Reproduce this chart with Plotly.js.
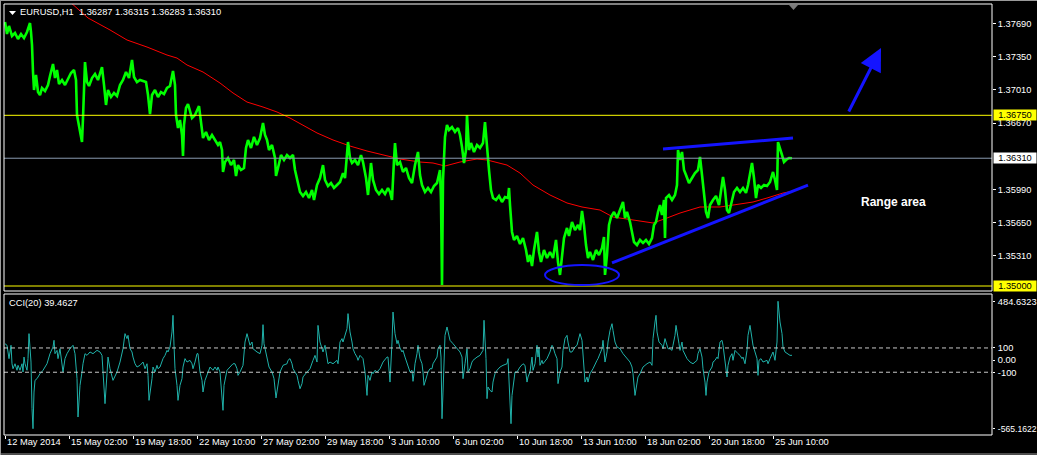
<!DOCTYPE html>
<html><head><meta charset="utf-8">
<script src="https://cdn.plot.ly/plotly-3.0.1.min.js"></script>
<style>html,body{margin:0;padding:0;background:#000;overflow:hidden}#chart{width:1037px;height:455px}</style>
</head><body><div id="chart"></div>
<script>
// ---------------- data ----------------
const symbolHeader = 'EURUSD,H1  1.36287 1.36315 1.36283 1.36310';
const cciHeader = 'CCI(20) 39.4627';
const rangeLabel = 'Range area';

// bar index (H1 bars, left to right) and price
const priceBars = [5,7,9,12,15,18,21,24,27,30,31,32,33,34,36,38,40,42,45,48,50,53,55,57,59,62,65,68,71,74,76,77,79,81,82,83,85,87,89,92,95,98,100,102,104,106,108,111,114,117,120,123,126,129,132,134,137,140,143,146,148,150,152,155,158,161,164,167,170,173,175,176,178,180,182,183,184,186,188,190,192,195,197,199,201,203,206,209,212,215,218,220,222,223,225,228,231,234,236,238,241,244,246,248,251,254,257,260,263,265,267,269,272,275,276,278,281,284,287,290,293,295,297,300,303,306,309,312,314,317,320,323,325,328,331,334,337,340,343,345,348,350,352,355,358,361,363,366,368,371,373,376,379,382,385,388,390,392,394,395,397,400,403,406,409,412,415,418,420,422,425,428,431,434,437,440,441,442,443,445,447,449,452,455,458,460,462,464,466,467,469,471,474,477,480,483,485,487,489,491,493,496,499,502,505,508,509,510,512,514,517,520,523,526,528,530,532,534,537,539,541,544,547,550,553,556,558,560,562,564,567,569,572,575,578,580,582,584,586,588,590,593,596,599,602,604,605,607,609,611,614,617,620,623,625,627,630,632,634,637,640,643,646,649,652,654,656,658,660,662,664,665,666,669,672,675,677,678,680,682,684,686,689,692,695,698,700,702,704,706,708,710,713,716,719,721,723,725,727,729,731,734,737,740,743,746,748,750,752,754,756,758,761,764,767,770,773,775,777,778,780,782,784,786,789,792];
const priceClose = [1.37707,1.37583,1.37666,1.37563,1.37594,1.37532,1.37583,1.37542,1.37604,1.37696,
1.37604,1.37471,1.37194,1.37009,1.37163,1.36989,1.36958,1.3703,1.36999,1.37061,
1.37153,1.37276,1.37132,1.37214,1.37071,1.37112,1.37061,1.37132,1.37184,1.37214,
1.37112,1.36753,1.36651,1.36548,1.36476,1.36722,1.37296,1.37091,1.3705,1.37132,
1.37173,1.37112,1.37194,1.37245,1.37061,1.36856,1.37009,1.36938,1.36979,1.36948,
1.37061,1.37112,1.37194,1.37132,1.37317,1.37143,1.37091,1.37112,1.37102,1.37091,
1.36958,1.36763,1.36958,1.37009,1.36938,1.36989,1.36968,1.3703,1.3705,1.37204,
1.37061,1.36753,1.3662,1.36702,1.36548,1.36333,1.36651,1.36825,1.36866,1.36784,
1.36722,1.36753,1.36804,1.36845,1.36681,1.36517,1.36579,1.36497,1.36548,1.36497,
1.36446,1.36476,1.36394,1.36169,1.36271,1.36312,1.3624,1.36292,1.36128,1.3624,
1.36189,1.3621,1.36415,1.36497,1.36415,1.36528,1.36446,1.36517,1.36671,1.36548,
1.36497,1.36394,1.36446,1.36312,1.36128,1.3621,1.36343,1.36292,1.36343,1.36312,
1.36343,1.36189,1.36087,1.35964,1.35923,1.35964,1.35902,1.35984,1.35882,1.36035,
1.36107,1.3624,1.36087,1.36025,1.36056,1.36005,1.36035,1.36066,1.36158,1.36107,
1.36476,1.36312,1.36261,1.36292,1.3624,1.36343,1.36271,1.36107,1.35933,1.36261,
1.36087,1.35984,1.35943,1.35984,1.35943,1.36005,1.35964,1.35882,1.36292,1.36466,
1.3624,1.36271,1.36169,1.3621,1.36107,1.36056,1.3624,1.36374,1.36138,1.36035,
1.35964,1.36005,1.35964,1.36025,1.36056,1.36189,1.35882,1.3501,1.36087,1.36528,
1.36651,1.36599,1.3663,1.36579,1.3662,1.36548,1.36425,1.36261,1.36394,1.36753,
1.36394,1.36466,1.36374,1.36446,1.36415,1.36466,1.36681,1.36394,1.36189,1.35984,
1.35902,1.35882,1.35923,1.35861,1.35912,1.35902,1.36005,1.3583,1.35554,1.35472,
1.35513,1.35431,1.35492,1.35369,1.35246,1.35318,1.35205,1.35369,1.35554,1.35349,
1.35246,1.35369,1.35287,1.35349,1.35287,1.35472,1.35246,1.35113,1.35287,1.35492,
1.35595,1.35513,1.35656,1.35574,1.35625,1.35574,1.35769,1.35625,1.3542,1.35287,
1.35349,1.35267,1.35369,1.35318,1.3539,1.35502,1.35113,1.35318,1.35625,1.35707,
1.35759,1.35697,1.35779,1.35861,1.35697,1.35759,1.35656,1.35554,1.35451,1.3542,
1.35472,1.35441,1.35472,1.35431,1.35492,1.35625,1.35656,1.35759,1.3583,1.35728,
1.35882,1.35492,1.35902,1.35933,1.35882,1.35933,1.36035,1.36394,1.36292,1.36374,
1.36189,1.36138,1.36056,1.36107,1.36158,1.36189,1.36323,1.36138,1.35933,1.35759,
1.35697,1.3583,1.35882,1.35923,1.3583,1.35984,1.36117,1.35984,1.35779,1.35748,
1.3583,1.35964,1.36005,1.35964,1.36005,1.35954,1.36035,1.36138,1.36261,1.36107,
1.35902,1.36035,1.36005,1.36035,1.36025,1.36066,1.36169,1.36087,1.35984,1.36476,
1.36394,1.36343,1.36271,1.36292,1.36312,1.3631];

// moving average (red)
const maBars = [70,88,110,127,147,167,177,187,203,220,233,247,263,277,290,303,317,333,350,367,383,400,420,433,445,460,477,487,507,520,533,550,567,582,600,613,633,653,667,680,700,720,733,753,767,783,793];
const maValues = [1.37912,1.37748,1.37625,1.37522,1.3745,1.37368,1.37337,1.37266,1.37194,1.37081,1.36979,1.36886,1.36835,1.36784,1.36722,1.36651,1.36569,1.36497,1.36435,1.36384,1.36343,1.36302,1.36271,1.36261,1.3623,1.36271,1.36302,1.36292,1.3624,1.36158,1.36035,1.35933,1.35851,1.3581,1.35779,1.35707,1.35677,1.35646,1.35697,1.35748,1.3581,1.3581,1.3583,1.35861,1.35902,1.35953,1.35974];

// CCI(20): [bar, value]
const cciSeries = [[5,135],[7,122],[9,12],[11,122],[12,-30],[13,-71],[15,-30],[17,-84],[18,-43],[20,-84],[22,-30],[23,-98],[24,25],[25,-30],[27,-84],[28,12],[29,218],[31,-16],[32,-400],[33,-565.1622],[34,-263],[35,-167],[37,-153],[40,-112],[43,-84],[47,-30],[50,53],[53,108],[54,163],[55,53],[57,80],[58,12],[60,94],[62,-16],[63,-98],[65,12],[67,53],[70,94],[73,122],[75,53],[77,-153],[78,-469],[80,-208],[82,-98],[83,-30],[85,53],[87,39],[90,67],[93,53],[97,80],[100,67],[102,39],[103,-126],[105,-359],[107,-112],[108,25],[110,-71],[112,-139],[113,-167],[117,-98],[120,-16],[123,94],[125,218],[127,177],[128,204],[130,94],[132,67],[133,25],[135,-30],[137,-57],[140,-43],[143,-16],[145,-71],[147,-30],[148,-126],[149,-332],[151,-236],[152,-153],[153,-57],[155,-98],[157,-43],[158,-71],[160,-57],[163,12],[165,39],[167,80],[168,67],[170,108],[172,232],[173,369],[174,122],[175,-71],[177,-208],[178,-332],[180,-208],[182,-153],[183,-57],[185,12],[187,-16],[190,-2],[192,-30],[193,-71],[195,-16],[197,53],[198,53],[200,-98],[202,-167],[203,-263],[205,-167],[207,-126],[210,-57],[213,-84],[215,-57],[217,-84],[218,-57],[220,-98],[223,-414],[224,-208],[227,-84],[230,-57],[233,-30],[235,-30],[237,-71],[238,-126],[240,-98],[243,-43],[245,149],[247,218],[248,177],[250,122],[252,149],[253,94],[257,67],[260,53],[262,122],[263,292],[264,135],[266,53],[267,-2],[269,-57],[272,-98],[274,-153],[276,-312],[278,-181],[280,-98],[283,-43],[287,-30],[288,-2],[290,12],[292,-30],[293,-71],[295,-98],[297,-126],[298,-167],[300,-236],[302,-194],[303,-139],[307,-98],[310,-71],[313,-2],[315,39],[317,-16],[318,286],[320,149],[322,94],[323,67],[325,122],[327,-2],[328,-30],[330,-16],[333,-30],[337,-2],[338,-30],[340,149],[342,177],[343,149],[345,204],[347,259],[348,383],[350,232],[352,149],[353,94],[355,53],[357,25],[358,-2],[360,39],[363,12],[365,-98],[367,-291],[368,-126],[370,-167],[372,-98],[373,-112],[375,-84],[377,-98],[380,-71],[383,-16],[387,25],[388,25],[390,-181],[392,149],[393,396],[395,218],[397,135],[398,163],[400,100],
[402,67],[403,80],[405,25],[407,-30],[408,-57],[410,-98],[412,-84],[413,-175],[414,-112],[415,-30],[417,53],[418,122],[420,12],[422,-30],[423,-98],[424,-208],[425,-181],[427,-126],[428,-98],[430,-71],[432,-71],[433,-30],[435,-2],[437,25],[438,94],[440,122],[441,25],[442,-483],[443,-263],[444,25],[445,204],[447,273],[448,232],[450,163],[453,135],[457,94],[460,67],[462,25],[463,-153],[465,-30],[467,94],[468,-98],[470,-71],[472,-16],[473,-2],[477,25],[480,39],[482,67],[483,80],[484,328],[486,12],[487,-318],[488,-222],[490,-249],[492,-263],[493,-181],[495,-112],[497,-84],[500,-57],[503,-43],[507,-30],[508,12],[510,-345],[511,-524],[512,-291],[513,-208],[515,-98],[517,-98],[520,-57],[523,-30],[525,-43],[527,-181],[528,-139],[530,-98],[532,25],[533,-84],[535,-30],[537,122],[538,25],[539,108],[540,-43],[542,-2],[543,-30],[547,12],[550,67],[552,122],[553,108],[555,53],[557,12],[558,-194],[560,-98],[562,-57],[563,80],[565,177],[567,204],[568,149],[570,67],[572,67],[573,80],[575,108],[577,122],[578,149],[580,218],[582,163],[583,39],[585,-181],[587,-139],[588,-181],[590,-112],[592,-84],[593,-71],[597,-2],[598,12],[600,53],[602,94],[603,163],[605,-16],[607,67],[608,149],[610,245],[612,300],[613,245],[615,149],[617,108],[620,94],[623,53],[627,12],[630,-16],[632,-57],[633,-112],[635,-291],[637,-181],[638,-139],[640,-112],[643,-57],[647,-30],[650,-16],[652,-43],[653,177],[655,314],[656,369],[657,232],[659,149],[662,122],[663,94],[665,177],[667,108],[668,94],[670,94],[672,80],[673,122],[675,204],[676,286],[677,245],[679,135],[680,80],[682,149],[683,80],[685,39],[687,12],[690,-16],[693,-30],[697,-2],[698,53],[700,94],[702,25],[703,-71],[705,-181],[706,-291],[707,-181],[709,-98],[712,-57],[713,-16],[715,-2],[717,25],[718,12],[720,149],[722,163],[723,122],[725,12],[727,-139],[728,-43],[730,25],[732,53],[733,-2],[735,80],[737,67],[738,53],[740,39],[742,12],[743,25],[745,-30],[747,80],[748,204],[750,286],[752,177],[753,122],[755,67],[757,12],[758,-126],[759,-2],[761,12],[763,-16],[767,-2],[768,-30],[770,12],[772,53],[773,67],[775,-2],[777,149],[778,484.6323],[780,314],[782,218],[783,108],[785,67],[787,53],[788,53],[790,39],[792,39.4627]];

const priceTickVals = [1.3769,1.3735,1.3701,1.3667,1.3599,1.3565,1.3531];
const yellowLevels = [1.3675, 1.35];
const bidPrice = 1.3631;
const cciTickVals = [484.6323,100,0,-100,-565.1622];
const cciTickText = ['484.6323','100','0.00','-100','-565.1622'];
const cciLevels = [100,-100];
const timeTickBars = [5,69,133,197,261,325,389,453,517,581,645,709,773];
const timeTickText = ['12 May 2014','15 May 02:00','19 May 18:00','22 May 10:00','27 May 02:00','29 May 18:00','3 Jun 10:00','6 Jun 02:00','10 Jun 18:00','13 Jun 10:00','18 Jun 02:00','20 Jun 18:00','25 Jun 10:00'];

// ---------------- layout helpers ----------------
const W = 1037, H = 455, L = 4, R = 992, T = 4, B = 435;
const px = v => (v - L) / (R - L);
const py = v => (B - v) / (B - T);
const FONT = 'Liberation Sans, Arial, sans-serif';
const FS = 9.3;
const BLUE = '#1414ff';

const traces = [
  {x: maBars, y: maValues, type: 'scatter', mode: 'lines', line: {color: '#ff0000', width: 1}, xaxis: 'x', yaxis: 'y'},
  {x: priceBars, y: priceClose, type: 'scatter', mode: 'lines', line: {color: '#00ff00', width: 2.6}, xaxis: 'x', yaxis: 'y'},
  {x: cciSeries.map(d => d[0]), y: cciSeries.map(d => d[1]), type: 'scatter', mode: 'lines', line: {color: '#20b2aa', width: 1}, xaxis: 'x', yaxis: 'y2'}
];

const shapes = [];
yellowLevels.forEach(v => shapes.push({type: 'line', xref: 'paper', x0: 0, x1: 1, yref: 'y', y0: v, y1: v, line: {color: '#ffff00', width: 1}}));
shapes.push({type: 'line', xref: 'paper', x0: 0, x1: 1, yref: 'y', y0: bidPrice, y1: bidPrice, line: {color: '#8a9ab0', width: 1}});
cciLevels.forEach(v => shapes.push({type: 'line', xref: 'paper', x0: 0, x1: 1, yref: 'y2', y0: v, y1: v, line: {color: '#c8c8c8', width: 1, dash: '4px,3px'}}));
// panel frames
shapes.push({type: 'rect', xref: 'paper', yref: 'paper', x0: 0, x1: 1, y0: py(291), y1: 1, line: {color: '#ffffff', width: 1}});
shapes.push({type: 'rect', xref: 'paper', yref: 'paper', x0: 0, x1: 1, y0: 0, y1: py(294), line: {color: '#ffffff', width: 1}});
// window border
shapes.push({type: 'line', xref: 'paper', yref: 'paper', x0: px(0.5), x1: px(0.5), y0: py(0), y1: py(455), line: {color: '#9a9a9a', width: 1}});
shapes.push({type: 'line', xref: 'paper', yref: 'paper', x0: px(0), x1: px(1037), y0: py(0.5), y1: py(0.5), line: {color: '#9a9a9a', width: 1}});
shapes.push({type: 'line', xref: 'paper', yref: 'paper', x0: px(0), x1: px(1037), y0: py(454), y1: py(454), line: {color: '#9a9a9a', width: 1}});
// header triangle
shapes.push({type: 'path', xref: 'paper', yref: 'paper', path: `M ${px(9)},${py(11)} L ${px(16)},${py(11)} L ${px(12.5)},${py(15)} Z`, fillcolor: '#ffffff', line: {width: 0}});
// chart-shift marker
shapes.push({type: 'path', xref: 'paper', yref: 'paper', path: `M ${px(789)},${py(5)} L ${px(798)},${py(5)} L ${px(793.5)},${py(10)} Z`, fillcolor: '#7a7a7a', line: {width: 0}});
// drawn objects: trend lines, ellipse
shapes.push({type: 'line', xref: 'x', yref: 'y', x0: 663, y0: 1.36405, x1: 793, y1: 1.36517, line: {color: BLUE, width: 3}});
shapes.push({type: 'line', xref: 'x', yref: 'y', x0: 612, y0: 1.35236, x1: 808, y1: 1.36035, line: {color: BLUE, width: 3}});
shapes.push({type: 'circle', xref: 'x', yref: 'y', x0: 545, x1: 619, y0: 1.3501, y1: 1.35215, line: {color: BLUE, width: 2}});

const annotations = [];
function boxLabel(v, txt, bg) {
  annotations.push({xref: 'paper', x: 1, xanchor: 'left', xshift: 1, yref: 'y', y: v, yanchor: 'middle',
    text: txt, font: {family: FONT, size: FS, color: '#000000'}, bgcolor: bg, width: 42, height: 10, align: 'center', borderpad: 0, showarrow: false});
}
boxLabel(1.3675, '1.36750', '#ffff00');
boxLabel(bidPrice, bidPrice.toFixed(5), '#ffffff');
boxLabel(1.35, '1.35000', '#ffff00');
timeTickBars.forEach((b, i) => annotations.push({xref: 'x', x: b, xanchor: 'left', xshift: 1, yref: 'paper', y: 0, yanchor: 'top', yshift: -1,
  text: timeTickText[i], font: {family: FONT, size: FS, color: '#ffffff'}, showarrow: false, borderpad: 0}));
annotations.push({xref: 'paper', x: px(19), xanchor: 'left', yref: 'paper', y: py(12.5), yanchor: 'middle', text: symbolHeader.replace(/  /g, '&nbsp; '),
  font: {family: FONT, size: FS, color: '#ffffff'}, showarrow: false, borderpad: 0});
annotations.push({xref: 'paper', x: px(8), xanchor: 'left', yref: 'paper', y: py(302.5), yanchor: 'middle', text: cciHeader,
  font: {family: FONT, size: FS, color: '#ffffff'}, showarrow: false, borderpad: 0});
annotations.push({xref: 'x', x: 893, yref: 'y', y: 1.35861, xanchor: 'center', yanchor: 'middle', text: '<b>' + rangeLabel + '</b>',
  font: {family: FONT, size: 12, color: '#ffffff'}, showarrow: false});
annotations.push({xref: 'x', yref: 'y', x: 881, y: 1.3744, axref: 'x', ayref: 'y', ax: 848, ay: 1.36774, text: '',
  showarrow: true, arrowhead: 2, arrowsize: 1.5, arrowwidth: 3, arrowcolor: BLUE, standoff: 0});

const tickFont = {family: FONT, size: FS, color: '#ffffff'};
// the long minimum label is set slightly smaller so it stays inside the window
const cciTickLabels = cciTickText.map(t => t.length > 8 && t.startsWith('-') ? '<span style="font-size:8.6px">' + t + '</span>' : t);
const layout = {
  width: W, height: H,
  margin: {l: L, r: W - R, t: T, b: H - B, pad: 0},
  paper_bgcolor: '#000000', plot_bgcolor: '#000000',
  showlegend: false,
  xaxis: {range: [L, R], anchor: 'y2', showgrid: false, zeroline: false, showline: false,
    tickmode: 'array', tickvals: timeTickBars, showticklabels: false, ticks: 'outside', ticklen: 3, tickcolor: '#ffffff', tickwidth: 1},
  yaxis: {domain: [py(291), 1], range: [1.35 - 5 / 9754, 1.35 + 282 / 9754], side: 'right', anchor: 'x',
    showgrid: false, zeroline: false, showline: false, tickmode: 'array', tickvals: priceTickVals,
    ticktext: priceTickVals.map(v => v.toFixed(5)), ticks: 'outside', ticklen: 3, tickcolor: '#ffffff', tickfont: tickFont},
  yaxis2: {domain: [0, py(294)], range: [-(435 - 360.1) * 8.24, (360.1 - 294) * 8.24], side: 'right', anchor: 'x',
    showgrid: false, zeroline: false, showline: false, tickmode: 'array', tickvals: cciTickVals, ticktext: cciTickLabels,
    ticks: 'outside', ticklen: 2, ticklabelstandoff: 1, tickcolor: '#ffffff', tickfont: tickFont},
  shapes: shapes,
  annotations: annotations
};

Plotly.newPlot('chart', traces, layout, {staticPlot: true, displayModeBar: false});
</script>
</body></html>
